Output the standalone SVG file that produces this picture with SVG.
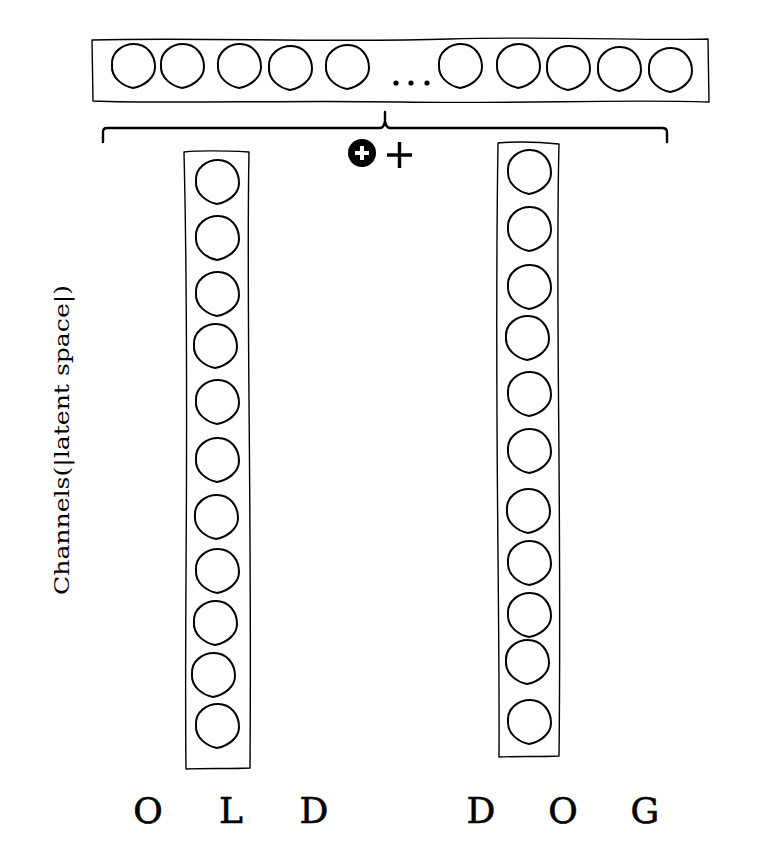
<svg xmlns="http://www.w3.org/2000/svg" width="764" height="860" viewBox="0 0 764 860">
<style>
.box{fill:#fff;stroke:#000;stroke-width:1.4;stroke-linejoin:round}
.cir{fill:none;stroke:#000;stroke-width:2}
.br{fill:none;stroke:#000;stroke-width:2.4;stroke-linecap:round;stroke-linejoin:round}
.lab{font-family:"DejaVu Serif",serif;font-size:21px;fill:#000}
.let{font-family:"DejaVu Serif",serif;font-size:36px;fill:#000;stroke:#000;stroke-width:0.6}
</style>
<defs>
<path id="c" class="cir" d="M-21,-1 C-22,-14 -10,-22 1,-22 C14,-22 22,-11 22,1 C22,12 11,20 0,22 C-10,20 -22,12 -21,-1 Z"/>
</defs>
<rect width="764" height="860" fill="#fff"/>
<g id="top-bar">
<path class="box" d="M92,40 C200,37 330,43 450,39 C560,36 650,41 708,39 L709,102 C620,99 520,104 400,102 C280,100 170,104 93,101 Z"/>
<use href="#c" x="133" y="66"/>
<use href="#c" x="182" y="66"/>
<use href="#c" x="239" y="66"/>
<use href="#c" x="290" y="68"/>
<use href="#c" x="347" y="67"/>
<circle cx="396" cy="83" r="2.6"/>
<circle cx="411" cy="83" r="2.6"/>
<circle cx="427" cy="83" r="2.6"/>
<use href="#c" x="460" y="66"/>
<use href="#c" x="518" y="66"/>
<use href="#c" x="568" y="68"/>
<use href="#c" x="619" y="69"/>
<use href="#c" x="670" y="70"/>
</g>
<g id="connectors">
<path class="br" d="M103,142 L103,132 Q103,128 107,128 L380,128 Q384,128 385,121 L385,112 M385,121 Q386,128 390,128 L662,128 Q667,128 667,132 L667,142"/>
</g>
<g id="sum-icon">
<circle cx="362" cy="153" r="14" fill="#000"/>
<path d="M355,153 H369 M362,146 V160" stroke="#fff" stroke-width="4"/>
<path d="M387,155 H412 M399.5,142 V168" stroke="#000" stroke-width="3.4"/>
</g>
<g id="col-old">
<path class="box" d="M184,152 C205,150 230,151 249,152 C246,300 252,500 250,768 C230,769 205,768 186,769 C184,600 190,400 184,152 Z"/>
<use href="#c" x="217" y="182"/>
<use href="#c" x="217" y="238"/>
<use href="#c" x="217" y="294"/>
<use href="#c" x="215" y="346"/>
<use href="#c" x="217" y="402"/>
<use href="#c" x="217" y="460"/>
<use href="#c" x="216" y="517"/>
<use href="#c" x="217" y="571"/>
<use href="#c" x="215" y="623"/>
<use href="#c" x="213" y="675"/>
<use href="#c" x="217" y="726"/>
</g>
<g id="col-dog">
<path class="box" d="M498,143 C520,141 540,142 559,144 C555,300 562,500 559,756 C540,757 518,756 499,757 C500,600 494,400 498,143 Z"/>
<use href="#c" x="529" y="172"/>
<use href="#c" x="529" y="229"/>
<use href="#c" x="529" y="287"/>
<use href="#c" x="527" y="338"/>
<use href="#c" x="529" y="394"/>
<use href="#c" x="529" y="451"/>
<use href="#c" x="528" y="511"/>
<use href="#c" x="529" y="563"/>
<use href="#c" x="529" y="615"/>
<use href="#c" x="527" y="662"/>
<use href="#c" x="529" y="722"/>
</g>
<g id="axis-label">
<text class="lab" transform="translate(69,440) rotate(-90)" text-anchor="middle" textLength="310" lengthAdjust="spacingAndGlyphs">Channels(|latent space|)</text>
</g>
<g id="tokens">
<text class="let" x="148" y="823" text-anchor="middle">O</text>
<text class="let" x="231" y="823" text-anchor="middle">L</text>
<text class="let" x="314" y="823" text-anchor="middle">D</text>
<text class="let" x="481" y="823" text-anchor="middle">D</text>
<text class="let" x="563" y="823" text-anchor="middle">O</text>
<text class="let" x="645" y="823" text-anchor="middle">G</text>
</g>
</svg>
